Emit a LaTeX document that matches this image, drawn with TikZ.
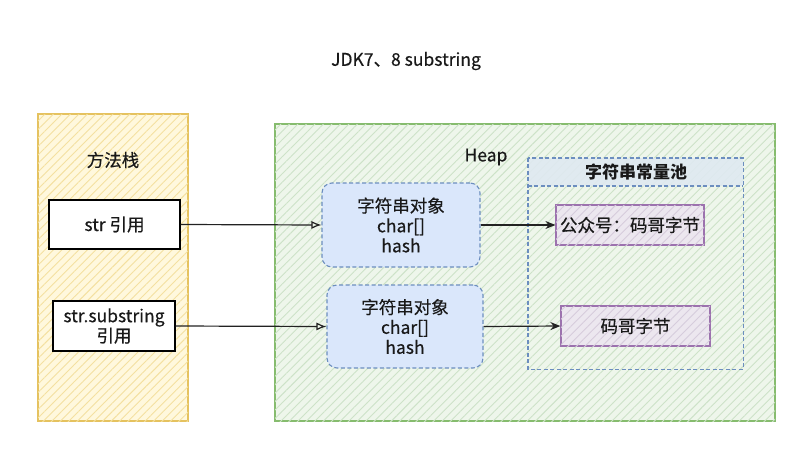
\documentclass[tikz,border=0pt]{standalone}
\usepackage{fontspec}
\setmainfont{Noto Sans CJK SC}[UprightFeatures={FakeBold=0.4}]
\usetikzlibrary{arrows.meta,patterns.meta}
\definecolor{stackfill}{HTML}{FFF8DD}
\definecolor{stackline}{HTML}{F4E0A0}
\definecolor{stackborder}{HTML}{E5C25F}
\definecolor{heapfill}{HTML}{EEF6EB}
\definecolor{heapline}{HTML}{CDE2C8}
\definecolor{heapborder}{HTML}{86BC6E}
\definecolor{objfill}{HTML}{DAE7FB}
\definecolor{objborder}{HTML}{6C8EBF}
\definecolor{poolhead}{HTML}{DFE9F1}
\definecolor{itemfill}{HTML}{ECE7EF}
\definecolor{itemline}{HTML}{D6CCDC}
\definecolor{itemborder}{HTML}{9C72AE}
\definecolor{arrowcol}{HTML}{222222}
\tikzset{
  txt/.style={font=\fontsize{17.5pt}{20pt}\selectfont, align=center, text=black!90},
  hatch/.style={postaction={pattern={Lines[angle=45,distance=6pt,line width=0.9pt]},pattern color=#1}},
  container/.style={draw=#1, line width=1.2pt, inner sep=0pt},
  refbox/.style={txt, draw=black, fill=white, line width=1.2pt, inner sep=2pt},
  objbox/.style={txt, draw=objborder, fill=objfill, dash pattern=on 4pt off 2.5pt, rounded corners=10pt, line width=1.1pt},
  itembox/.style={txt, draw=itemborder, fill=itemfill, hatch=itemline, line width=1.2pt},
  pooldash/.style={draw=objborder, dash pattern=on 4pt off 2.5pt, line width=1.4pt},
  link/.style={draw=arrowcol, line width=1.2pt},
}
\begin{document}
\begin{tikzpicture}[x=1pt,y=-1pt]
\path[fill=white,use as bounding box] (0,0) rectangle (807,456);
% title
\node[txt] (title) at (406,61) {JDK7、8 substring};
% stack
\node[container=stackborder, fill=stackfill, hatch=stackline, minimum width=150pt, minimum height=307pt] (stack) at (113,267.5) {};
\node[txt] (stacklbl) at (113,160) {方法栈};
\node[refbox, minimum width=131pt, minimum height=49pt] (str) at (114.5,224.5) {str 引用};
\node[refbox, minimum width=122pt, minimum height=50pt] (sub) at (114,326) {str.substring\\引用};
% heap
\node[container=heapborder, fill=heapfill, hatch=heapline, minimum width=500pt, minimum height=297pt] (heap) at (525,272.5) {};
\node[txt] (heaplbl) at (486,157) {Heap};
\node[objbox, minimum width=158pt, minimum height=84pt] (obj1) at (401,225) {字符串对象\\char[]\\hash};
\node[objbox, minimum width=156pt, minimum height=83pt] (obj2) at (405,326.5) {字符串对象\\char[]\\hash};
% pool
\node[minimum width=215pt, minimum height=211pt, inner sep=0pt] (pool) at (635.5,263.5) {};
\fill[poolhead, opacity=0.9] (pool.north west) rectangle ([yshift=-28pt]pool.north east);
\draw[pooldash] (pool.north west) rectangle (pool.south east);
\draw[pooldash] ([yshift=-28pt]pool.north west) -- ([yshift=-28pt]pool.north east);
\node[txt, font=\fontsize{17pt}{20pt}\selectfont\bfseries] (poollbl) at (636,172) {字符串常量池};
\node[itembox, minimum width=148pt, minimum height=40pt] (p1) at (630,225) {公众号：码哥字节};
\node[itembox, minimum width=149pt, minimum height=40pt] (p2) at (635.5,326) {码哥字节};
% connectors
\draw[link, -{Latex[open,length=10pt,width=8pt]}] (str.east) -- (obj1.west);
\draw[link, -{Latex[open,length=10pt,width=8pt]}] (sub.east) -- (obj2.west);
\draw[link, -{Stealth[length=10pt,width=8pt]}] (obj1.east) -- (p1.west);
\draw[link, -{Stealth[length=10pt,width=8pt]}] (obj2.east) -- (p2.west);
\end{tikzpicture}
\end{document}
